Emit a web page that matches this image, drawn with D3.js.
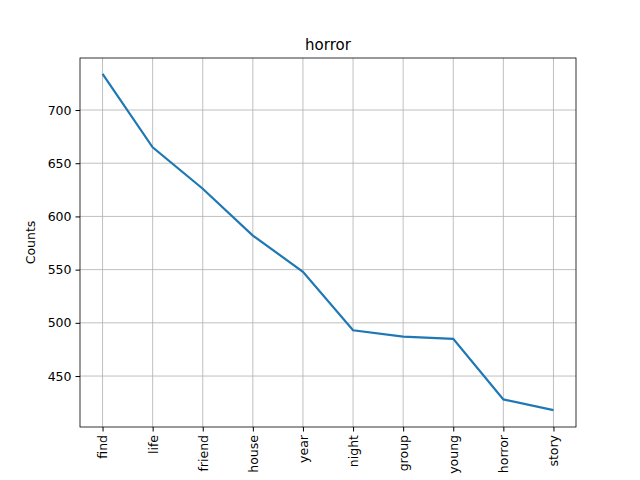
<!DOCTYPE html>
<html><head><meta charset="utf-8">
<script src="https://cdn.jsdelivr.net/npm/d3@7"></script>
<style>body{margin:0;background:#fff}text{font-family:"DejaVu Sans",sans-serif}</style>
</head><body>
<script>
const words = ["find","life","friend","house","year","night","group","young","horror","story"]
const counts = [734, 665, 626, 582, 548, 493, 487, 485, 428, 418]
const yTicks = [450, 500, 550, 600, 650, 700]

const L = 80, R = 576, T = 58, B = 427

const svg = d3.select("body").append("svg").attr("width", 640).attr("height", 480)

const x = d3.scalePoint().domain(words).range([L, R]).padding(0.45)
const y = d3.scaleLinear().domain([402.1, 748.9]).range([B, T])

// grid
svg.append("g").selectAll("line").data(words).join("line")
	.attr("x1", d => x(d)).attr("x2", d => x(d)).attr("y1", T).attr("y2", B)
	.attr("stroke", "#b0b0b0").attr("stroke-width", 0.8)
svg.append("g").selectAll("line").data(yTicks).join("line")
	.attr("x1", L).attr("x2", R).attr("y1", d => y(d)).attr("y2", d => y(d))
	.attr("stroke", "#b0b0b0").attr("stroke-width", 0.8)

const xAxis = svg.append("g").attr("transform", `translate(0,${B})`)
	.call(d3.axisBottom(x).tickSize(4.5).tickPadding(3.5).tickSizeOuter(0))
xAxis.selectAll("text")
	.attr("transform", "rotate(-90)")
	.attr("text-anchor", "end")
	.attr("x", -8).attr("y", 0).attr("dy", "0.35em")
	.style("font-size", "12.5px").attr("fill", "#000")

const yAxis = svg.append("g").attr("transform", `translate(${L},0)`)
	.call(d3.axisLeft(y).tickValues(yTicks).tickSize(4.5).tickPadding(4).tickSizeOuter(0))
yAxis.selectAll("text").style("font-size", "12.5px").attr("fill", "#000")
svg.selectAll(".domain").remove()

svg.append("rect").attr("x", L).attr("y", T).attr("width", R - L).attr("height", B - T)
	.attr("fill", "none").attr("stroke", "#000").attr("stroke-width", 0.8)

svg.append("path").datum(counts)
	.attr("d", d3.line().x((d, i) => x(words[i])).y(d => y(d)))
	.attr("fill", "none").attr("stroke", "#1f77b4").attr("stroke-width", 2.2)

svg.append("text").attr("x", (L + R) / 2).attr("y", T - 8).attr("text-anchor", "middle")
	.style("font-size", "15px").text("horror")

svg.append("text").attr("transform", `translate(35,${(T + B) / 2}) rotate(-90)`)
	.attr("text-anchor", "middle").style("font-size", "12.5px").text("Counts")
</script>
</body></html>
